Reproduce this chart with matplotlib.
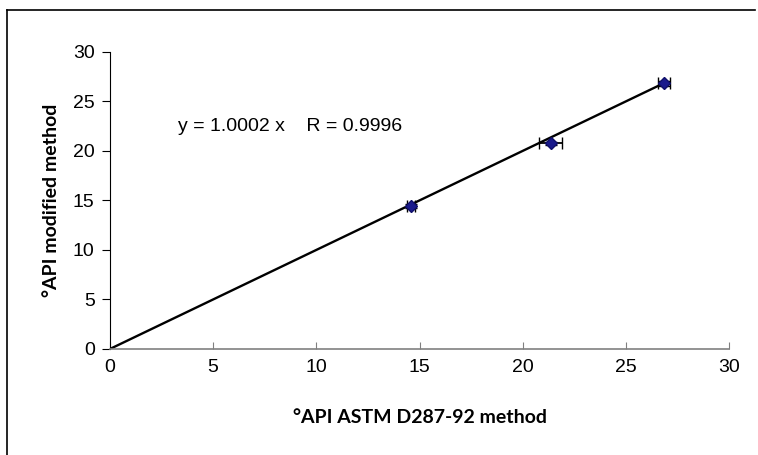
import matplotlib.pyplot as plt
from matplotlib.lines import Line2D

# measured values
astm = [14.6, 21.35, 26.85]
modified = [14.45, 20.75, 26.85]
astm_err = [0.2, 0.55, 0.3]
mod_err = [0.2, 0.15, 0.25]
slope = 1.0002

fig = plt.figure(figsize=(7.58, 4.55), dpi=100)
ax = fig.add_axes([0.145, 0.233, 0.817, 0.653])

# outer frame (top and left edges visible)
fig.add_artist(Line2D([7 / 758, 755 / 758], [1 - 10 / 455, 1 - 10 / 455], color='black', lw=1.2))
fig.add_artist(Line2D([7 / 758, 7 / 758], [0, 1 - 10 / 455], color='black', lw=1.2))

# trend line
ax.plot([0, astm[-1]], [0, slope * astm[-1]], color='black', lw=1.7, zorder=2)

ax.errorbar(astm, modified, xerr=astm_err, yerr=mod_err, fmt='D', color='#1a1a8c',
            mec='#10106a', ms=6.5, ecolor='black', elinewidth=1.3, capsize=4, zorder=3)

ax.text(3.3, 22.5, "y = 1.0002 x    R = 0.9996", fontsize=14, family='Liberation Sans', va='center')

ax.set_xlim(0, 30)
ax.set_ylim(0, 30)
ax.set_xticks(range(0, 31, 5))
ax.set_yticks(range(0, 31, 5))
for s in ['top', 'right']:
    ax.spines[s].set_visible(False)
ax.spines['left'].set_color('black')
ax.spines['left'].set_linewidth(0.8)
ax.spines['bottom'].set_color('#808080')
ax.spines['bottom'].set_linewidth(1.2)
ax.tick_params(axis='y', direction='out', length=6, width=0.8, labelsize=14, pad=5)
ax.tick_params(axis='x', direction='in', length=5, width=0.8, colors='#808080', labelsize=14, pad=7)
for lbl in ax.get_xticklabels() + ax.get_yticklabels():
    lbl.set_family('Liberation Sans')
    lbl.set_color('black')

ax.set_xlabel("°API ASTM D287-92 method", fontsize=14, fontweight='bold', family='Lato', labelpad=24)
ax.set_ylabel("°API modified method", fontsize=14, fontweight='bold', family='Lato', labelpad=9)

fig.savefig("out.png", dpi=100)
